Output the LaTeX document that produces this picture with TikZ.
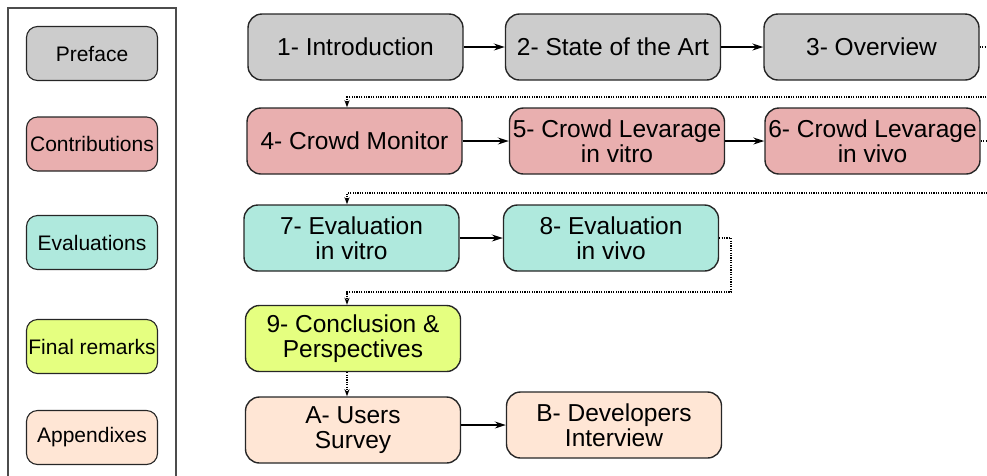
\documentclass[tikz,border=0pt]{standalone}
\usepackage{fontspec}
\setmainfont{Liberation Sans}
\usetikzlibrary{arrows.meta}

\definecolor{prefgray}{HTML}{CCCCCC}
\definecolor{contribred}{HTML}{E9AFAF}
\definecolor{evalteal}{HTML}{AFE9DD}
\definecolor{finalgreen}{HTML}{E5FF80}
\definecolor{appxpeach}{HTML}{FFE6D5}

\begin{document}
\begin{tikzpicture}[x=1pt,y=-1pt,
	chapter/.style={draw=black!85, line width=1.4pt, rounded corners=14pt,
		minimum width=215pt, minimum height=66pt, inner sep=1pt, align=center,
		font=\fontsize{24.5}{25}\selectfont},
	legendbox/.style={draw=black!85, line width=1.1pt, rounded corners=11pt,
		minimum width=131pt, minimum height=54pt, inner sep=1pt,
		font=\fontsize{21}{24}\selectfont},
	next/.style={line width=1.5pt, -{Stealth[length=11pt,width=7pt]}},
	jump/.style={line width=1.2pt, dash pattern=on 1.2pt off 1.2pt,
		-{Stealth[length=7pt,width=5pt]}}]
	
	\useasboundingbox (0,0) rectangle (987,475);
	\clip (0,0) rectangle (987,475);
	
	% legend
	\draw[line width=1.5pt, color=black!70] (8,490) -- (8,8) -- (176,8) -- (176,490);
	\node[legendbox, fill=prefgray] (lpref) at (92,53.5) {Preface};
	\node[legendbox, fill=contribred] (lcontrib) at (92,144) {Contributions};
	\node[legendbox, fill=evalteal] (leval) at (92,242.5) {Evaluations};
	\node[legendbox, fill=finalgreen] (lfinal) at (92,346.5) {Final remarks};
	\node[legendbox, fill=appxpeach] (lappx) at (92,437.5) {Appendixes};
	
	% chapters
	\node[chapter, fill=prefgray] (intro) at (355.5,47) {1- Introduction};
	\node[chapter, fill=prefgray] (soa) at (613,47) {2- State of the Art};
	\node[chapter, fill=prefgray] (overview) at (871.5,47) {3- Overview};
	
	\node[chapter, fill=contribred] (monitor) at (354.5,141) {4- Crowd Monitor};
	\node[chapter, fill=contribred] (levvitro) at (617,141) {5- Crowd Levarage\\in vitro};
	\node[chapter, fill=contribred] (levvivo) at (872.5,141) {6- Crowd Levarage\\in vivo};
	
	\node[chapter, fill=evalteal] (evalvitro) at (351.5,238) {7- Evaluation\\in vitro};
	\node[chapter, fill=evalteal] (evalvivo) at (611,238) {8- Evaluation\\in vivo};
	
	\node[chapter, fill=finalgreen] (concl) at (353,338.5) {9- Conclusion \&\\Perspectives};
	
	\node[chapter, fill=appxpeach] (survey) at (353,430) {A- Users\\Survey};
	\node[chapter, fill=appxpeach] (interview) at (614,425) {B- Developers\\Interview};
	
	% solid arrows
	\draw[next] (intro) -- (soa);
	\draw[next] (soa) -- (overview);
	\draw[next] (monitor) -- (levvitro);
	\draw[next] (levvitro) -- (levvivo);
	\draw[next] (evalvitro) -- (evalvivo);
	\draw[next] (survey.east |- interview) -- (interview);
	
	% dotted jumps between rows
	\coordinate (col) at (347,0);
	\coordinate (edge) at (1000,0);
	\draw[jump] (overview.east) -- (edge |- overview.east) -- (edge |- 0,97) -| (col |- monitor.north);
	\draw[jump] (levvivo.east) -- (edge |- levvivo.east) -- (edge |- 0,193) -| (col |- evalvitro.north);
	\draw[jump] (evalvivo.east) -- (731,238) -- (731,292) -| (col |- concl.north);
	\draw[jump] (col |- concl.south) -- (col |- survey.north);
	
\end{tikzpicture}
\end{document}
